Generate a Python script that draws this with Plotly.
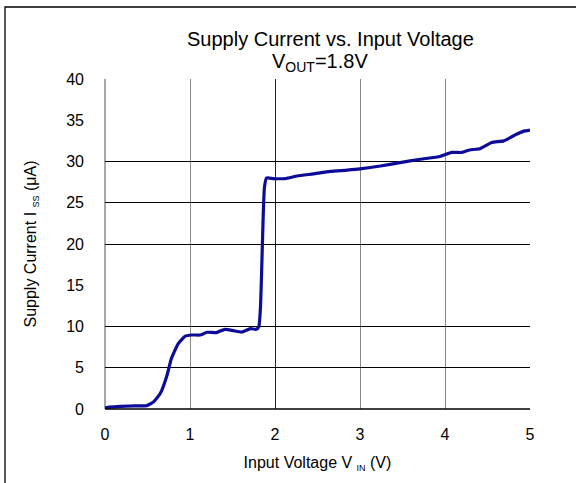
import plotly.graph_objects as go

# Data
vin = [0.0, 0.01, 0.18, 0.35, 0.49, 0.57, 0.65, 0.73, 0.78, 0.86, 0.94, 1.02, 1.12,
       1.2, 1.31, 1.41, 1.51, 1.61, 1.71, 1.78, 1.81, 1.83, 1.845, 1.86, 1.875,
       1.90, 1.98, 2.12, 2.26, 2.45, 2.65, 2.85, 3.0, 3.24, 3.47, 3.71, 3.94, 4.08,
       4.2, 4.29, 4.41, 4.55, 4.69, 4.84, 4.92, 5.0]
iss = [0.0, 0.17, 0.33, 0.38, 0.4, 0.85, 1.87, 4.1, 6.1, 7.9, 8.8, 8.97, 8.97,
       9.3, 9.26, 9.66, 9.5, 9.33, 9.74, 9.66, 10.0, 12.5, 17.5, 23.0, 26.8,
       28.0, 27.93, 27.93, 28.24, 28.5, 28.8, 28.95, 29.1, 29.45, 29.87, 30.27, 30.6, 31.1,
       31.1, 31.4, 31.55, 32.3, 32.5, 33.3, 33.65, 33.8]

x_ticks = [0, 1, 2, 3, 4, 5]
y_ticks = [0, 5, 10, 15, 20, 25, 30, 35, 40]
y_grid = [5, 10, 20, 25, 30]

FONT = "Liberation Sans, Arial, sans-serif"

# plot-area pixel geometry
L, R, T, B = 105, 530, 79, 409
W, H = R - L, B - T


def px_x(p):
    return (p - L) / W


def px_y(p):
    return (B - p) / H


fig = go.Figure()
fig.add_trace(go.Scatter(x=vin, y=iss, mode="lines",
                         line=dict(color="#0C0C98", width=3.2, shape="spline", smoothing=0.4),
                         showlegend=False, hoverinfo="skip"))
fig.add_trace(go.Scatter(x=[0], y=[0], xaxis="x2", yaxis="y2", mode="markers",
                         marker=dict(opacity=0), showlegend=False, hoverinfo="skip"))

fig.update_layout(
    width=576, height=483,
    margin=dict(l=L, r=576 - R, t=T, b=483 - B),
    paper_bgcolor="white", plot_bgcolor="white",
    font=dict(family=FONT, color="black"),
    xaxis=dict(range=[0, 5], tickvals=x_ticks, ticktext=[str(v) for v in x_ticks],
               showgrid=True, gridcolor="#8a8a8a", gridwidth=1, automargin=False,
               showline=False, zeroline=False, ticks="", ticklabelstandoff=14,
               tickfont=dict(size=16, family=FONT),
               title=dict(text="Input Voltage V <sub><span style='font-size:9px'>IN</span></sub> (V)",
                          font=dict(size=16, family=FONT), standoff=14)),
    yaxis=dict(range=[0, 40], tickvals=y_ticks, showgrid=False, automargin=False,
               zeroline=False, showline=False, ticks="",
               tickfont=dict(size=16, family=FONT), ticklabelstandoff=20,
               title=dict(text="Supply Current I <sub><span style='font-size:9px'>SS</span></sub> (μA)",
                          font=dict(size=16, family=FONT), standoff=25)),
    xaxis2=dict(range=[0, 5], overlaying="x", tickvals=[2], showticklabels=False,
                showgrid=True, gridcolor="#222222", gridwidth=1, zeroline=False, showline=False),
    yaxis2=dict(range=[0, 40], overlaying="y", tickvals=y_grid, showticklabels=False,
                showgrid=True, gridcolor="black", gridwidth=1, zeroline=False, showline=False),
    annotations=[
        dict(text="Supply Current vs. Input Voltage", xref="paper", yref="paper",
             x=px_x(330), y=px_y(39), showarrow=False,
             font=dict(size=20, family=FONT), xanchor="center", yanchor="middle"),
        dict(text="V<sub>OUT</sub>=1.8V", xref="paper", yref="paper",
             x=px_x(320), y=px_y(63), showarrow=False,
             font=dict(size=20, family=FONT), xanchor="center", yanchor="middle"),
    ],
    shapes=[
        dict(type="line", xref="paper", yref="paper", x0=0, x1=0, y0=0, y1=1,
             line=dict(color="#8a8a8a", width=1.5), layer="below"),
        dict(type="line", xref="paper", yref="paper", x0=0, x1=1, y0=0, y1=0,
             line=dict(color="black", width=1.5)),
        dict(type="rect", xref="paper", yref="paper",
             x0=px_x(5), x1=px_x(590), y0=px_y(500), y1=px_y(7),
             line=dict(color="black", width=1.3), fillcolor="rgba(0,0,0,0)"),
    ],
)

fig.write_html("out.html", config={"displayModeBar": False},
               post_script="document.body.style.margin='0';document.body.style.padding='0';")
